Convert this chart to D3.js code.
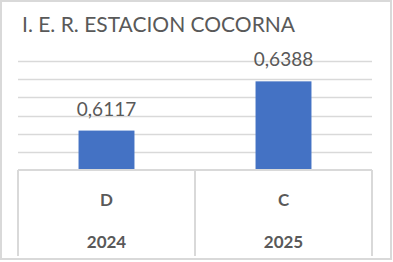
<!DOCTYPE html>
<html>
<head>
<meta charset="utf-8">
<script src="https://cdn.jsdelivr.net/npm/d3@7"></script>
<style>
  body { margin: 0; background: #fff; }
  svg text { font-family: Lato, "Open Sans", sans-serif; fill: #595959; }
</style>
</head>
<body>
<div class="chart"></div>
<script>
const title = 'I. E. R. ESTACION COCORNA';
const categories = ['D', 'C'];
const years = ['2024', '2025'];
const values = [0.6117, 0.6388];
const yTicks = [0.59, 0.60, 0.61, 0.62, 0.63, 0.64, 0.65];

const W = 393, H = 262;
const plot = {left: 18, right: 372, top: 61, bottom: 170};
const axisBottom = 256;

const locale = d3.formatLocale({decimal: ',', thousands: '.', grouping: [3], currency: ['', '']});
const fmt = locale.format('.4f');

const svg = d3.select('.chart').append('svg')
    .attr('width', W)
    .attr('height', H);

// outer frame
svg.append('rect')
    .attr('x', 1).attr('y', 1)
    .attr('width', W - 3).attr('height', H - 4)
    .attr('fill', '#fff')
    .attr('stroke', '#d9d9d9')
    .attr('stroke-width', 2);

const x = d3.scaleBand()
    .domain(categories)
    .range([plot.left, plot.right])
    .paddingInner(0.684)
    .paddingOuter(0.342);

const y = d3.scaleLinear()
    .domain([yTicks[0], yTicks[yTicks.length - 1]])
    .range([plot.bottom, plot.top]);

// gridlines
svg.append('g')
    .selectAll('line')
    .data(yTicks.slice(1))
    .enter().append('line')
    .attr('x1', plot.left)
    .attr('x2', plot.right)
    .attr('y1', d => Math.round(y(d)) + 0.5)
    .attr('y2', d => Math.round(y(d)) + 0.5)
    .attr('stroke', '#d9d9d9')
    .attr('stroke-width', 1.5);

// bars
svg.append('g')
    .selectAll('rect')
    .data(values)
    .enter().append('rect')
    .attr('x', (d, i) => x(categories[i]))
    .attr('width', x.bandwidth())
    .attr('y', d => y(d))
    .attr('height', d => plot.bottom - y(d))
    .attr('fill', '#4472c4');

// value labels
svg.append('g')
    .selectAll('text')
    .data(values)
    .enter().append('text')
    .attr('x', (d, i) => x(categories[i]) + x.bandwidth() / 2)
    .attr('y', d => y(d) - 15)
    .attr('text-anchor', 'middle')
    .style('font-size', '19px')
    .text(d => fmt(d));

// category axis (two levels)
const step = x.step();
const ax = svg.append('g');
ax.append('line')
    .attr('x1', plot.left).attr('x2', plot.right)
    .attr('y1', plot.bottom).attr('y2', plot.bottom)
    .attr('stroke', '#d9d9d9').attr('stroke-width', 2);

const edges = [plot.left].concat(categories.map(c => x(c) - step * 0.342 + step));
ax.selectAll('.sep')
    .data(edges)
    .enter().append('line')
    .attr('class', 'sep')
    .attr('x1', d => d).attr('x2', d => d)
    .attr('y1', plot.bottom).attr('y2', axisBottom)
    .attr('stroke', '#d9d9d9').attr('stroke-width', 2);

ax.selectAll('.cat')
    .data(categories)
    .enter().append('text')
    .attr('class', 'cat')
    .attr('x', d => x(d) + x.bandwidth() / 2)
    .attr('y', 205.5)
    .attr('text-anchor', 'middle')
    .style('font-size', '17px')
    .style('font-weight', 'bold')
    .text(d => d);

ax.selectAll('.year')
    .data(years)
    .enter().append('text')
    .attr('class', 'year')
    .attr('x', (d, i) => x(categories[i]) + x.bandwidth() / 2)
    .attr('y', 248)
    .attr('text-anchor', 'middle')
    .style('font-size', '17px')
    .style('font-weight', 'bold')
    .text(d => d);

svg.append('text')
    .attr('x', 22)
    .attr('y', 32)
    .style('font-size', '21px')
    .text(title);
</script>
</body>
</html>
